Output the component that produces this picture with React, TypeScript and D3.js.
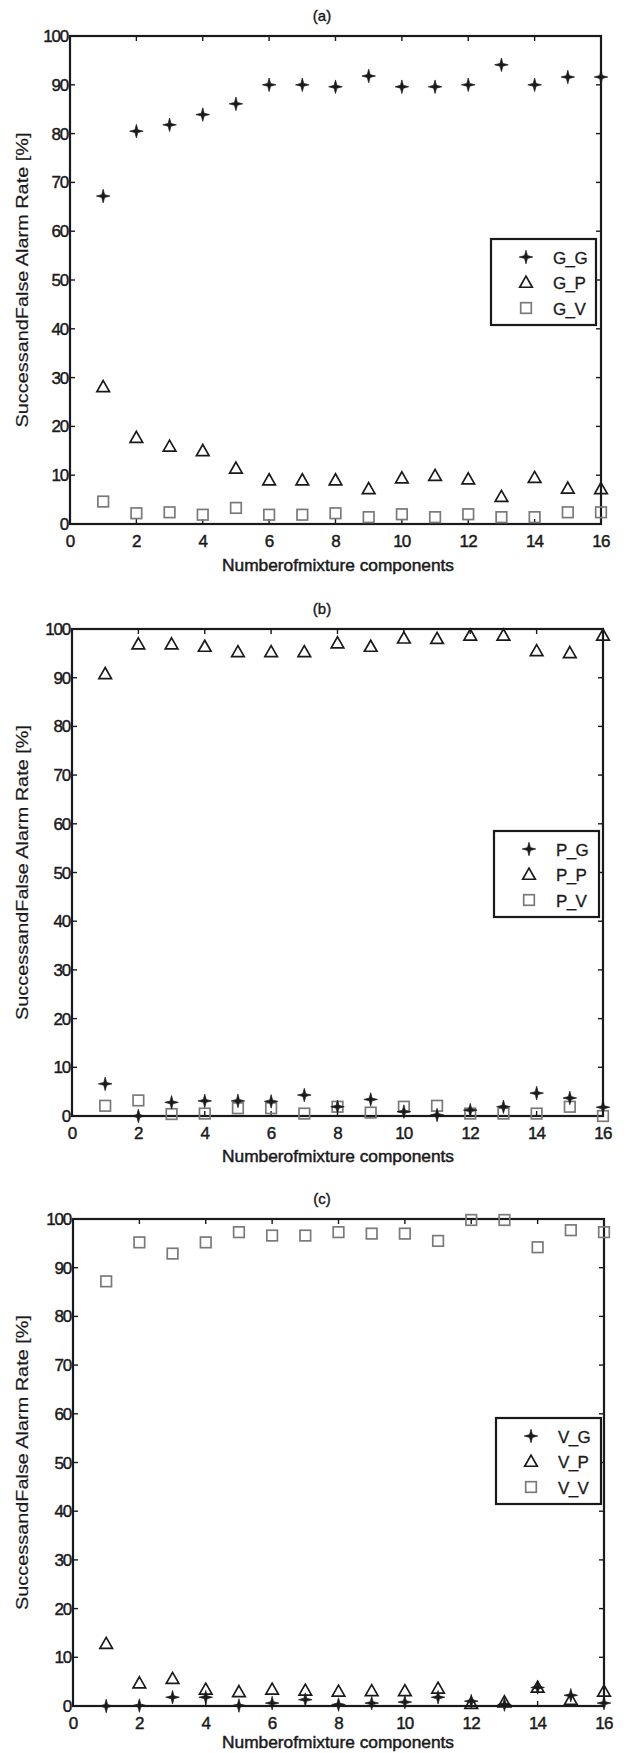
import React from "react";
import * as d3 from "d3";

const components = [1, 2, 3, 4, 5, 6, 7, 8, 9, 10, 11, 12, 13, 14, 15, 16];
const xTicks = [0, 2, 4, 6, 8, 10, 12, 14, 16];
const yTicks = [0, 10, 20, 30, 40, 50, 60, 70, 80, 90, 100];

const G_G = [67.2, 80.5, 81.8, 83.9, 86.1, 90.0, 90.0, 89.6, 91.8, 89.6, 89.6, 90.0, 94.1, 90.0, 91.6, 91.6];
const G_P = [28.1, 17.7, 15.9, 15.0, 11.4, 9.0, 9.0, 9.0, 7.2, 9.4, 9.9, 9.2, 5.6, 9.5, 7.3, 7.2];
const G_V = [4.6, 2.2, 2.4, 1.9, 3.3, 1.9, 1.9, 2.2, 1.4, 2.0, 1.4, 2.0, 1.4, 1.4, 2.4, 2.4];

const P_G = [6.6, 0.0, 2.8, 3.1, 3.1, 3.0, 4.3, 1.9, 3.4, 0.9, 0.2, 1.2, 1.9, 4.7, 3.7, 1.8];
const P_P = [90.8, 96.9, 96.9, 96.4, 95.3, 95.3, 95.3, 97.1, 96.4, 98.1, 98.0, 98.7, 98.7, 95.5, 95.1, 98.7];
const P_V = [2.1, 3.2, 0.4, 0.5, 1.6, 1.6, 0.5, 1.9, 0.7, 1.9, 2.1, 0.5, 0.5, 0.5, 1.9, 0.0];

const V_G = [0.0, 0.1, 1.8, 1.8, 0.1, 0.6, 1.3, 0.3, 0.6, 0.8, 1.8, 1.0, 0.3, 3.8, 2.2, 0.6];
const V_P = [12.8, 4.7, 5.6, 3.4, 2.9, 3.4, 3.2, 3.0, 3.1, 3.1, 3.6, 0.5, 0.8, 3.8, 1.3, 3.0];
const V_V = [87.2, 95.2, 92.9, 95.2, 97.3, 96.6, 96.6, 97.3, 97.0, 97.0, 95.5, 99.8, 99.8, 94.2, 97.7, 97.3];

const panelTitles = ["(a)", "(b)", "(c)"];
const legendNames = [
  ["G_G", "G_P", "G_V"],
  ["P_G", "P_P", "P_V"],
  ["V_G", "V_P", "V_V"],
];
const panelData = [
  [G_G, G_P, G_V],
  [P_G, P_P, P_V],
  [V_G, V_P, V_V],
];
const markerKinds = ["star", "triangle", "square"];

const xLabel = "Numberofmixture components";
const yLabel = "SuccessandFalse Alarm Rate [%]";

const layout = [
  { top: 36, bottom: 524, left: 70, right: 601, xlabDy: 47, legX: 491, legTop: 239 },
  { top: 629, bottom: 1116, left: 72, right: 603, xlabDy: 46, legX: 494, legTop: 831 },
  { top: 1219, bottom: 1706, left: 73, right: 604, xlabDy: 42, legX: 496, legTop: 1418 },
];

const FONT = "'Liberation Sans', Arial, sans-serif";
const INK = "#1a1a1a";

function Marker({ kind, x, y }: { kind: string; x: number; y: number }) {
  if (kind === "star") {
    const r = 6.8;
    const ri = 2.0;
    const pts: string[] = [];
    for (let i = 0; i < 8; i++) {
      const a = (Math.PI / 4) * i - Math.PI / 2;
      const rr = i % 2 === 0 ? r : ri;
      pts.push(`${(x + rr * Math.cos(a)).toFixed(2)},${(y + rr * Math.sin(a)).toFixed(2)}`);
    }
    return <polygon points={pts.join(" ")} fill={INK} stroke={INK} strokeWidth={0.7} />;
  }
  if (kind === "triangle") {
    const s = 6.3;
    const pts = `${x},${y - s} ${x + s},${y + s * 0.75} ${x - s},${y + s * 0.75}`;
    return <polygon points={pts} fill="none" stroke={INK} strokeWidth={1.7} strokeLinejoin="miter" />;
  }
  const h = 5.3;
  return <rect x={x - h} y={y - h} width={2 * h} height={2 * h} fill="none" stroke="#7a7a7a" strokeWidth={1.7} />;
}

function Panel({ idx }: { idx: number }) {
  const L = layout[idx];
  const x = d3.scaleLinear().domain([0, 16]).range([L.left, L.right]);
  const y = d3.scaleLinear().domain([0, 100]).range([L.bottom, L.top]);
  const tl = 5;
  const series = panelData[idx];
  const legW = 105;
  const legH = 86;
  const cy = (L.top + L.bottom) / 2;
  return (
    <g>
      <text x={322} y={L.top - 15} fontFamily={FONT} fontSize={15} textAnchor="middle" fill={INK} stroke={INK} strokeWidth={0.4}>
        {panelTitles[idx]}
      </text>
      {xTicks.map((t) => (
        <g key={"xt" + t}>
          <line x1={x(t)} x2={x(t)} y1={L.bottom} y2={L.bottom - tl} stroke={INK} strokeWidth={1.4} />
          <line x1={x(t)} x2={x(t)} y1={L.top} y2={L.top + tl} stroke={INK} strokeWidth={1.4} />
          <text x={x(t)} y={L.bottom + 23} fontFamily={FONT} fontSize={17} textAnchor="middle" fill={INK} stroke={INK} strokeWidth={0.45} letterSpacing={-0.8}>
            {t}
          </text>
        </g>
      ))}
      {yTicks.map((t) => (
        <g key={"yt" + t}>
          <line x1={L.left} x2={L.left + tl} y1={y(t)} y2={y(t)} stroke={INK} strokeWidth={1.4} />
          <line x1={L.right} x2={L.right - tl} y1={y(t)} y2={y(t)} stroke={INK} strokeWidth={1.4} />
          <text x={L.left - 2} y={y(t) + 6} fontFamily={FONT} fontSize={17} textAnchor="end" fill={INK} stroke={INK} strokeWidth={0.45} letterSpacing={-1.2}>
            {t}
          </text>
        </g>
      ))}
      <rect x={L.left} y={L.top} width={L.right - L.left} height={L.bottom - L.top} fill="none" stroke={INK} strokeWidth={2.2} />
      {[2, 1, 0].map((si) =>
        series[si].map((v, i) => (
          <Marker key={`m${si}-${i}`} kind={markerKinds[si]} x={x(components[i])} y={y(v)} />
        ))
      )}
      <rect x={L.legX} y={L.legTop} width={legW} height={legH} fill="#fff" stroke={INK} strokeWidth={2.2} />
      {legendNames[idx].map((n, k) => {
        const ly = L.legTop + 18 + k * 25.5;
        return (
          <g key={n}>
            <Marker kind={markerKinds[k]} x={L.legX + 35} y={ly} />
            <text x={L.legX + 62} y={ly + 6.5} fontFamily={FONT} fontSize={17} fill={INK} stroke={INK} strokeWidth={0.3} letterSpacing={-0.6}>
              {n}
            </text>
          </g>
        );
      })}
      <text
        x={338}
        y={L.bottom + L.xlabDy}
        fontFamily={FONT}
        fontSize={16}
        textAnchor="middle"
        fill={INK}
        stroke={INK}
        strokeWidth={0.45}
        textLength={232}
        lengthAdjust="spacingAndGlyphs"
      >
        {xLabel}
      </text>
      <text
        transform={`translate(28,${cy}) rotate(-90)`}
        fontFamily={FONT}
        fontSize={17}
        textAnchor="middle"
        fill={INK}
        stroke={INK}
        strokeWidth={0.2}
        textLength={295}
        lengthAdjust="spacingAndGlyphs"
      >
        {yLabel}
      </text>
    </g>
  );
}

export default function App() {
  return (
    <svg
      width={629}
      height={1753}
      viewBox="0 0 629 1753"
      style={{ position: "absolute", left: 0, top: 0, background: "#fff" }}
    >
      <rect x={0} y={0} width={629} height={1753} fill="#fff" />
      {[0, 1, 2].map((i) => (
        <Panel key={i} idx={i} />
      ))}
    </svg>
  );
}
